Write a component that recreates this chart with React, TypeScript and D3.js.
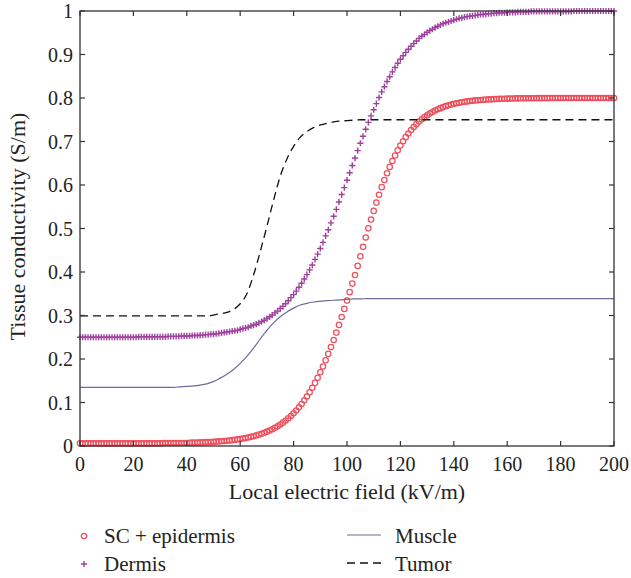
import * as d3 from "d3";

// sample grids (kV/m): markers every 1 kV/m, lines every 2.5 kV/m
const fieldKV = d3.range(0, 201);
const lineKV = d3.range(0, 201, 2.5);

// SC + epidermis conductivity (S/m), 0..200 kV/m
const scEpidermis = [
  0.006, 0.006, 0.006, 0.006, 0.006, 0.006, 0.006, 0.006, 0.006, 0.006,
  0.006, 0.006, 0.006, 0.006, 0.006, 0.006, 0.006, 0.006, 0.006, 0.006,
  0.006, 0.006, 0.006, 0.006, 0.006, 0.006, 0.006, 0.006, 0.006, 0.006,
  0.006, 0.007, 0.007, 0.007, 0.007, 0.007, 0.007, 0.007, 0.007, 0.007,
  0.007, 0.0075, 0.0077, 0.0078, 0.0081, 0.0082, 0.0085, 0.0088, 0.009, 0.0093,
  0.0097, 0.0101, 0.0105, 0.011, 0.0116, 0.0121, 0.0127, 0.0135, 0.0143, 0.0151,
  0.0161, 0.0172, 0.0183, 0.0196, 0.021, 0.0225, 0.0243, 0.0261, 0.0282, 0.0305,
  0.0329, 0.0356, 0.0386, 0.0419, 0.0455, 0.0494, 0.0537, 0.0584, 0.0635, 0.069,
  0.0752, 0.0817, 0.0888, 0.0965, 0.1049, 0.1139, 0.1235, 0.1339, 0.145, 0.1569,
  0.1695, 0.1828, 0.197, 0.2118, 0.2274, 0.2437, 0.2607, 0.2783, 0.2965, 0.3152,
  0.3342, 0.3536, 0.3733, 0.3931, 0.414, 0.436, 0.4578, 0.4792, 0.5003, 0.5207,
  0.5404, 0.5595, 0.5777, 0.595, 0.6114, 0.6269, 0.6415, 0.6552, 0.6679, 0.6796,
  0.6906, 0.7006, 0.7099, 0.7184, 0.7262, 0.7333, 0.7398, 0.7457, 0.751, 0.7559,
  0.7603, 0.7643, 0.7679, 0.7712, 0.7741, 0.7767, 0.7791, 0.7813, 0.7832, 0.7849,
  0.7865, 0.7879, 0.7891, 0.7902, 0.7913, 0.7922, 0.793, 0.7937, 0.7944, 0.7949,
  0.7955, 0.796, 0.7964, 0.7967, 0.797, 0.7974, 0.7977, 0.7979, 0.7982, 0.7983,
  0.7985, 0.7987, 0.7988, 0.799, 0.7991, 0.7992, 0.7992, 0.7993, 0.7994, 0.7995,
  0.7995, 0.7996, 0.7996, 0.7997, 0.7997, 0.7997, 0.7998, 0.7998, 0.7998, 0.7998,
  0.7999, 0.8, 0.8, 0.8, 0.8, 0.8, 0.8, 0.8, 0.8, 0.8,
  0.8, 0.8, 0.8, 0.8, 0.8, 0.8, 0.8, 0.8, 0.8, 0.8,
  0.8,
];

// Dermis conductivity (S/m), 0..200 kV/m
const dermis = [
  0.25, 0.25, 0.25, 0.25, 0.25, 0.25, 0.25, 0.25, 0.25, 0.25,
  0.25, 0.25, 0.25, 0.25, 0.25, 0.25, 0.25, 0.25, 0.25, 0.25,
  0.25, 0.25, 0.251, 0.251, 0.251, 0.251, 0.251, 0.251, 0.251, 0.251,
  0.251, 0.251, 0.251, 0.252, 0.252, 0.252, 0.252, 0.252, 0.253, 0.253,
  0.253, 0.253, 0.254, 0.254, 0.254, 0.255, 0.255, 0.256, 0.256, 0.257,
  0.257, 0.258, 0.259, 0.26, 0.261, 0.262, 0.263, 0.264, 0.265, 0.266,
  0.268, 0.27, 0.271, 0.273, 0.276, 0.278, 0.28, 0.283, 0.286, 0.289,
  0.293, 0.297, 0.301, 0.306, 0.31, 0.316, 0.321, 0.327, 0.334, 0.341,
  0.348, 0.356, 0.365, 0.374, 0.384, 0.394, 0.405, 0.416, 0.429, 0.441,
  0.454, 0.468, 0.483, 0.497, 0.513, 0.528, 0.544, 0.561, 0.578, 0.594,
  0.611, 0.628, 0.645, 0.662, 0.679, 0.696, 0.712, 0.728, 0.744, 0.759,
  0.773, 0.787, 0.801, 0.814, 0.826, 0.838, 0.849, 0.86, 0.87, 0.88,
  0.889, 0.897, 0.905, 0.912, 0.919, 0.925, 0.931, 0.937, 0.942, 0.946,
  0.951, 0.955, 0.958, 0.962, 0.965, 0.968, 0.971, 0.973, 0.975, 0.977,
  0.979, 0.981, 0.983, 0.984, 0.986, 0.987, 0.988, 0.989, 0.99, 0.991,
  0.992, 0.992, 0.993, 0.994, 0.994, 0.995, 0.995, 0.996, 0.996, 0.996,
  0.997, 0.997, 0.997, 0.997, 0.998, 0.998, 0.998, 0.998, 0.998, 0.999,
  0.999, 0.999, 0.999, 0.999, 0.999, 0.999, 0.999, 0.999, 0.999, 0.999,
  0.999, 0.999, 0.999, 0.999, 0.999, 1, 1, 1, 1, 1,
  1, 1, 1, 1, 1, 1, 1, 1, 1, 1,
  1,
];

// Muscle conductivity (S/m), every 2.5 kV/m
const muscle = [
  0.135, 0.135, 0.135, 0.135, 0.135, 0.135, 0.135, 0.135, 0.135, 0.135,
  0.135, 0.135, 0.135, 0.135, 0.135, 0.136, 0.137, 0.138, 0.14, 0.143,
  0.148, 0.156, 0.165, 0.176, 0.19, 0.206, 0.225, 0.246, 0.266, 0.283,
  0.297, 0.308, 0.317, 0.324, 0.328, 0.331, 0.333, 0.334, 0.335, 0.336,
  0.337, 0.338, 0.338, 0.339, 0.339, 0.339, 0.339, 0.339, 0.339, 0.339,
  0.339, 0.339, 0.339, 0.339, 0.339, 0.339, 0.339, 0.339, 0.339, 0.339,
  0.339, 0.339, 0.339, 0.339, 0.339, 0.339, 0.339, 0.339, 0.339, 0.339,
  0.339, 0.339, 0.339, 0.339, 0.339, 0.339, 0.339, 0.339, 0.339, 0.339,
  0.339,
];

// Tumor conductivity (S/m), every 2.5 kV/m
const tumor = [
  0.299, 0.299, 0.299, 0.299, 0.299, 0.299, 0.299, 0.299, 0.299, 0.299,
  0.299, 0.299, 0.299, 0.299, 0.299, 0.299, 0.299, 0.299, 0.299, 0.299,
  0.301, 0.304, 0.307, 0.314, 0.327, 0.35, 0.393, 0.447, 0.505, 0.565,
  0.62, 0.66, 0.689, 0.71, 0.723, 0.732, 0.738, 0.742, 0.745, 0.747,
  0.748, 0.749, 0.75, 0.75, 0.75, 0.75, 0.75, 0.75, 0.75, 0.75,
  0.75, 0.75, 0.75, 0.75, 0.75, 0.75, 0.75, 0.75, 0.75, 0.75,
  0.75, 0.75, 0.75, 0.75, 0.75, 0.75, 0.75, 0.75, 0.75, 0.75,
  0.75, 0.75, 0.75, 0.75, 0.75, 0.75, 0.75, 0.75, 0.75, 0.75,
  0.75,
];

const xTicks = [0, 20, 40, 60, 80, 100, 120, 140, 160, 180, 200];
const yTicks = [0, 0.1, 0.2, 0.3, 0.4, 0.5, 0.6, 0.7, 0.8, 0.9, 1];

const xTitle = "Local electric field (kV/m)";
const yTitle = "Tissue conductivity (S/m)";

const COLORS = {
  sc: "#ef4f5c",
  dermis: "#a0409e",
  muscle: "#6c6c9c",
  tumor: "#111111",
  axis: "#333333",
};

const FONT = "'Liberation Serif', 'DejaVu Serif', serif";

function Plus({ x, y, s, color }: { x: number; y: number; s: number; color: string }) {
  return (
    <path
      d={`M${x - s},${y}H${x + s}M${x},${y - s}V${y + s}`}
      stroke={color}
      strokeWidth={1.4}
      fill="none"
    />
  );
}

export default function App() {
  const width = 631;
  const height = 578;
  const plot = { left: 80, right: 614, top: 11, bottom: 446 };

  const x = d3.scaleLinear().domain([0, 200]).range([plot.left, plot.right]);
  const y = d3.scaleLinear().domain([0, 1]).range([plot.bottom, plot.top]);

  const line = d3
    .line<number>()
    .x((_, i) => x(lineKV[i]))
    .y((d) => y(d))
    .curve(d3.curveMonotoneX);

  const tickLen = 5;
  const fmt = (v: number) => (v === 0 ? "0" : v === 1 ? "1" : d3.format(".1f")(v));

  return (
    <svg
      width={width}
      height={height}
      style={{ position: "absolute", left: 0, top: 0, background: "#fff" }}
      fontFamily={FONT}
    >
      <rect width={width} height={height} fill="#fff" />

      {/* Dermis markers */}
      <g>
        {dermis.map((v, i) => (
          <Plus key={i} x={x(fieldKV[i])} y={y(v)} s={3.1} color={COLORS.dermis} />
        ))}
      </g>

      {/* SC + epidermis markers */}
      <g fill="none" stroke={COLORS.sc} strokeWidth={1.25}>
        {scEpidermis.map((v, i) => (
          <circle key={i} cx={x(fieldKV[i])} cy={y(v)} r={2.7} />
        ))}
      </g>

      {/* Muscle */}
      <path d={line(muscle) ?? ""} fill="none" stroke={COLORS.muscle} strokeWidth={1.2} />

      {/* Tumor */}
      <path
        d={line(tumor) ?? ""}
        fill="none"
        stroke={COLORS.tumor}
        strokeWidth={1.3}
        strokeDasharray="8,5"
      />

      {/* frame */}
      <rect
        x={plot.left}
        y={plot.top}
        width={plot.right - plot.left}
        height={plot.bottom - plot.top}
        fill="none"
        stroke={COLORS.axis}
        strokeWidth={1.3}
      />

      {/* ticks, pointing inward on all four sides */}
      <g stroke={COLORS.axis} strokeWidth={1.2}>
        {xTicks.map((t) => (
          <g key={t}>
            <line x1={x(t)} x2={x(t)} y1={plot.bottom} y2={plot.bottom - tickLen} />
            <line x1={x(t)} x2={x(t)} y1={plot.top} y2={plot.top + tickLen} />
          </g>
        ))}
        {yTicks.map((t) => (
          <g key={t}>
            <line x1={plot.left} x2={plot.left + tickLen} y1={y(t)} y2={y(t)} />
            <line x1={plot.right} x2={plot.right - tickLen} y1={y(t)} y2={y(t)} />
          </g>
        ))}
      </g>

      <g fontSize={20} fill="#222">
        {xTicks.map((t) => (
          <text key={t} x={x(t)} y={plot.bottom + 25} textAnchor="middle">
            {t}
          </text>
        ))}
        {yTicks.map((t) => (
          <text key={t} x={plot.left - 7} y={y(t) + 7} textAnchor="end">
            {fmt(t)}
          </text>
        ))}
      </g>
      <g fontSize={22} fill="#222">
        <text x={(plot.left + plot.right) / 2} y={499} textAnchor="middle">
          {xTitle}
        </text>
        <text
          transform={`translate(25,${(plot.top + plot.bottom) / 2 - 2}) rotate(-90)`}
          textAnchor="middle"
        >
          {yTitle}
        </text>
      </g>

      {/* legend */}
      <g fontSize={21} fill="#222">
        <circle cx={84} cy={536} r={2.7} fill="none" stroke={COLORS.sc} strokeWidth={1.25} />
        <text x={104} y={543}>SC + epidermis</text>
        <Plus x={84} y={564} s={3.1} color={COLORS.dermis} />
        <text x={104} y={571}>Dermis</text>
        <line x1={347} x2={381} y1={535} y2={535} stroke={COLORS.muscle} strokeWidth={1.2} />
        <text x={395} y={543}>Muscle</text>
        <line
          x1={347}
          x2={381}
          y1={563}
          y2={563}
          stroke={COLORS.tumor}
          strokeWidth={1.3}
          strokeDasharray="8,5"
        />
        <text x={395} y={571}>Tumor</text>
      </g>
    </svg>
  );
}
